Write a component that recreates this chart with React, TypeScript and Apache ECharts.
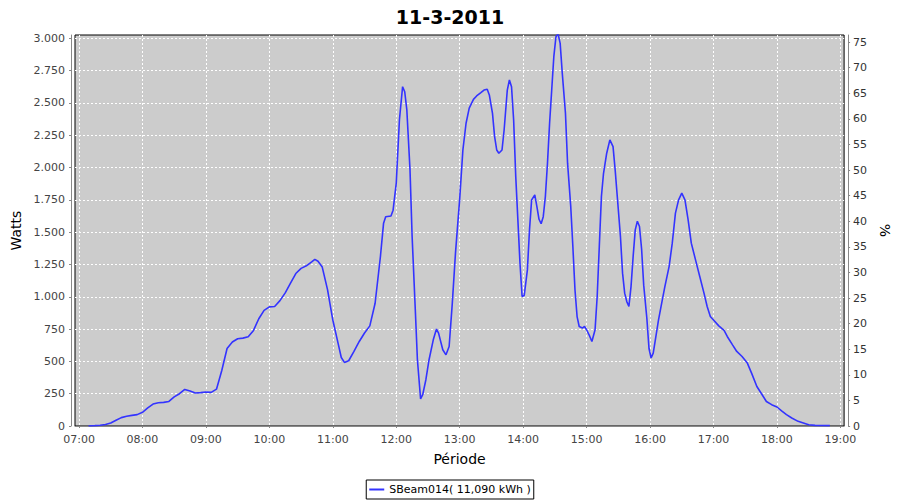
import React, { useEffect, useRef } from "react";
import * as echarts from "echarts";

const chartTitle = "11-3-2011";
const seriesName = "SBeam014( 11,090 kWh )";
const yAxisName = "Watts";
const xAxisName = "Période";
const y2AxisName = "%";

const times: string[] = [
  "07:09","07:15","07:20","07:25","07:30","07:35","07:40","07:45","07:50","07:55",
  "08:00","08:05","08:10","08:15","08:20","08:25","08:30","08:35","08:40","08:45",
  "08:50","08:55","09:00","09:05","09:10","09:15","09:20","09:25","09:30","09:35",
  "09:40","09:45","09:50","09:55","10:00","10:05","10:10","10:15","10:20","10:25",
  "10:30","10:35","10:40","10:43","10:46","10:50","10:55","11:00","11:05","11:08",
  "11:11","11:15","11:20","11:25","11:30","11:35","11:40","11:45","11:48","11:50",
  "11:55","11:57","12:00","12:03","12:06","12:08","12:10","12:13","12:15","12:18",
  "12:20","12:23","12:25","12:28","12:31","12:35","12:38","12:40","12:44","12:47",
  "12:50","12:53","12:56","13:00","13:03","13:06","13:09","13:13","13:16","13:20",
  "13:23","13:26","13:28","13:31","13:33","13:35","13:37","13:40","13:42","13:45",
  "13:47","13:49","13:51","13:53","13:55","13:57","13:59","14:01","14:04","14:06",
  "14:08","14:11","14:13","14:15","14:17","14:19","14:21","14:23","14:25","14:27",
  "14:29","14:31","14:33","14:35","14:37","14:40","14:42","14:45","14:47","14:49",
  "14:51","14:53","14:56","14:58","15:00","15:03","15:05","15:08","15:10","15:12",
  "15:14","15:16","15:19","15:22","15:25","15:27","15:29","15:32","15:34","15:36",
  "15:38","15:40","15:42","15:44","15:46","15:48","15:50","15:52","15:54","15:57",
  "15:59","16:01","16:03","16:05","16:08","16:11","16:14","16:18","16:21","16:24",
  "16:27","16:30","16:33","16:36","16:39","16:43","16:47","16:51","16:54","16:57",
  "17:00","17:05","17:10","17:13","17:18","17:22","17:27","17:32","17:36","17:41",
  "17:46","17:50","17:55","18:00","18:05","18:09","18:14","18:20","18:25","18:30",
  "18:36","18:50"
];

const watts: number[] = [
  0,3,6,12,23,45,65,75,82,88,
  106,140,170,180,183,190,225,250,283,270,
  255,258,263,260,285,430,600,650,675,680,
  690,740,830,895,922,925,970,1030,1105,1180,
  1220,1240,1270,1290,1275,1230,1055,820,640,530,
  492,505,577,654,720,775,950,1310,1570,1620,
  1625,1670,1880,2370,2626,2587,2446,1982,1466,900,
  513,210,242,358,513,667,750,719,590,551,
  615,951,1338,1760,2136,2343,2460,2528,2554,2580,
  2600,2606,2562,2420,2240,2136,2111,2136,2291,2600,
  2678,2626,2368,1930,1595,1260,1002,1010,1208,1518,
  1750,1788,1698,1600,1565,1620,1776,2034,2343,2600,
  2858,3012,3035,2961,2729,2420,2034,1698,1389,1054,
  847,770,758,770,745,693,654,745,1002,1389,
  1776,1956,2111,2214,2162,1982,1776,1466,1183,1028,
  963,925,1079,1312,1518,1585,1544,1370,1090,830,
  600,526,564,667,822,951,1079,1234,1415,1647,
  1750,1802,1750,1595,1415,1286,1157,1028,925,847,
  820,775,740,693,628,577,538,487,409,306,
  242,190,165,147,113,88,62,36,23,10,
  5,3
];

const xTickLabels = ["07:00","08:00","09:00","10:00","11:00","12:00","13:00","14:00","15:00","16:00","17:00","18:00","19:00"];
const yTickValues = [0,250,500,750,1000,1250,1500,1750,2000,2250,2500,2750,3000];
const yTickLabels = ["0","250","500","750","1.000","1.250","1.500","1.750","2.000","2.250","2.500","2.750","3.000"];
const y2TickValues = [0,5,10,15,20,25,30,35,40,45,50,55,60,65,70,75];

const toMin = (s: string) => {
  const [h, m] = s.split(":").map(Number);
  return h * 60 + m;
};

const FONT = "DejaVu Sans";

export default function App() {
  const ref = useRef<HTMLDivElement>(null);
  useEffect(() => {
    if (!ref.current) return;
    const chart = echarts.init(ref.current, null, { renderer: "svg" });
    const xTickValues = xTickLabels.map(toMin);
    const data = times.map((t, i) => [toMin(t), watts[i]]);
    chart.setOption({
      animation: false,
      backgroundColor: "#ffffff",
      title: {
        text: chartTitle,
        left: "center",
        top: 2,
        textStyle: { fontFamily: FONT, fontSize: 19, fontWeight: "bold", color: "#000" },
      },
      legend: {
        bottom: 1,
        left: "center",
        data: [seriesName],
        icon: "rect",
        itemWidth: 15,
        itemHeight: 2,
        padding: [4, 3, 4, 3],
        borderColor: "#000",
        borderWidth: 1,
        borderRadius: 0,
        textStyle: { fontFamily: FONT, fontSize: 11, color: "#000" },
      },
      grid: {
        left: 75,
        right: 54,
        top: 35,
        bottom: 74,
        show: true,
        backgroundColor: "#cccccc",
        borderColor: "#000",
        borderWidth: 1,
      },
      xAxis: {
        type: "value",
        min: 416.2,
        max: 1143.5,
        offset: 4,
        name: xAxisName,
        nameLocation: "middle",
        nameGap: 22,
        nameTextStyle: { fontFamily: FONT, fontSize: 14, color: "#000" },
        axisLine: { show: true, lineStyle: { color: "#888", width: 1 } },
        axisTick: { show: true, length: 2, lineStyle: { color: "#888" }, customValues: xTickValues },
        axisLabel: {
          customValues: xTickValues,
          margin: 4,
          fontFamily: FONT,
          fontSize: 11,
          color: "#444",
          formatter: (v: number) => xTickLabels[xTickValues.indexOf(Math.round(v))] ?? "",
        },
        splitLine: { show: true, lineStyle: { color: "#ffffff", type: [2, 2], width: 1 } },
      },
      yAxis: [
        {
          type: "value",
          min: 0,
          max: 3026,
          offset: 4,
          position: "left",
          name: yAxisName,
          nameLocation: "middle",
          nameGap: 43,
          nameTextStyle: { fontFamily: FONT, fontSize: 14, color: "#000" },
          axisLine: { show: true, lineStyle: { color: "#888", width: 1 } },
          axisTick: { show: true, length: 2, lineStyle: { color: "#888" }, customValues: yTickValues },
          axisLabel: {
            customValues: yTickValues,
            margin: 6,
            fontFamily: FONT,
            fontSize: 11,
            color: "#444",
            formatter: (v: number) => yTickLabels[yTickValues.indexOf(Math.round(v))] ?? "",
          },
          splitLine: { show: true, lineStyle: { color: "#ffffff", type: [2, 2], width: 1 } },
        },
        {
          type: "value",
          min: 0,
          max: 76.37,
          offset: 4,
          position: "right",
          name: y2AxisName,
          nameLocation: "middle",
          nameGap: 24,
          nameRotate: -90,
          nameTextStyle: { fontFamily: FONT, fontSize: 14, color: "#000" },
          axisLine: { show: true, lineStyle: { color: "#888", width: 1 } },
          axisTick: { show: true, length: 2, lineStyle: { color: "#888" }, customValues: y2TickValues },
          axisLabel: {
            customValues: y2TickValues,
            margin: 5,
            fontFamily: FONT,
            fontSize: 11,
            color: "#333",
          },
          splitLine: { show: false },
        },
      ],
      series: [
        {
          name: seriesName,
          type: "line",
          yAxisIndex: 0,
          data,
          showSymbol: false,
          symbol: "none",
          clip: true,
          lineStyle: { color: "#3333ff", width: 1.6 },
          itemStyle: { color: "#3333ff" },
        },
      ],
    });
    return () => chart.dispose();
  }, []);
  return <div ref={ref} style={{ position: "absolute", left: 0, top: 0, width: 900, height: 500 }} />;
}
